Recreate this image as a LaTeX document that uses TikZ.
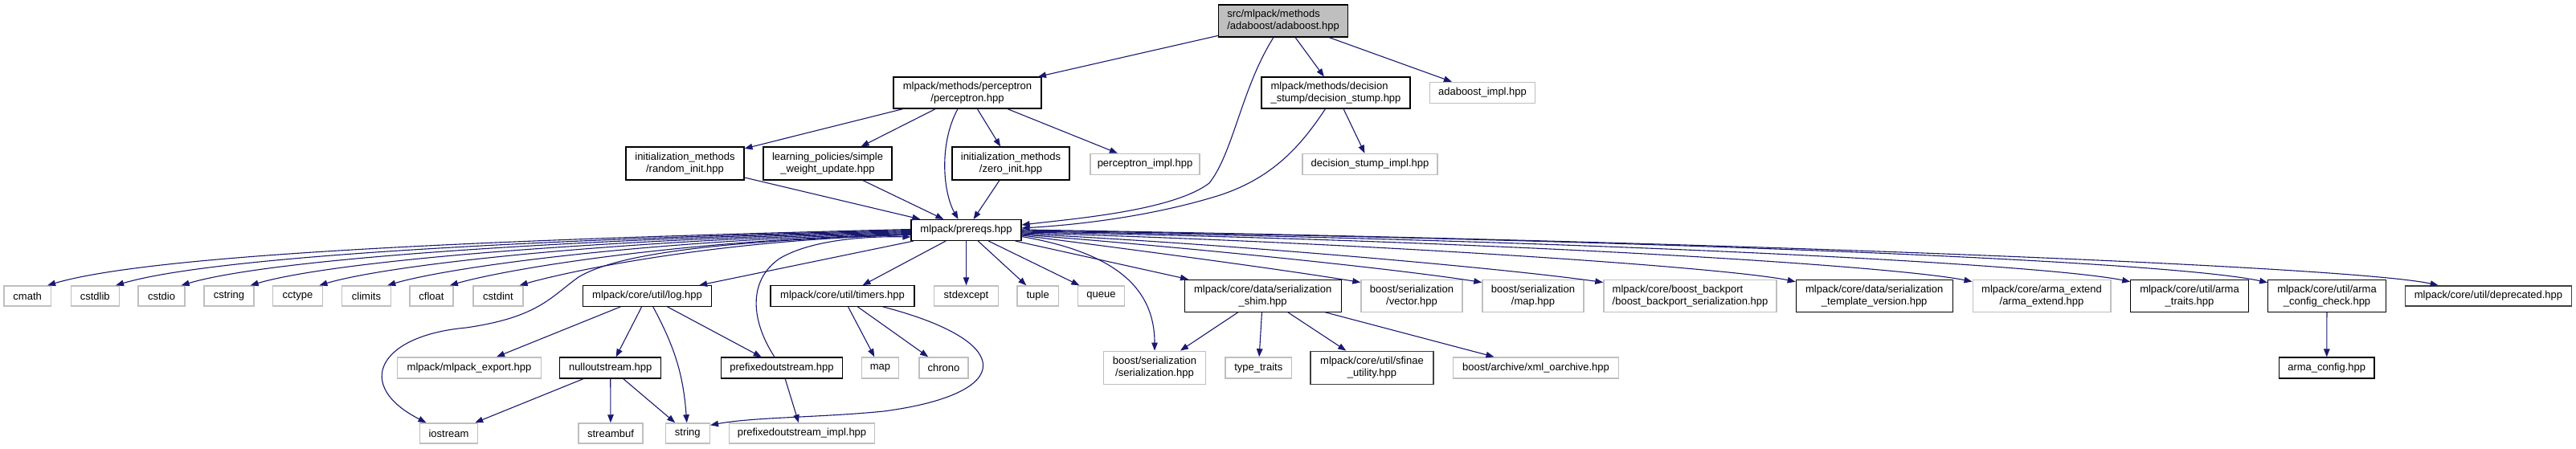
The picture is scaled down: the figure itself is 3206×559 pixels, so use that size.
\documentclass[tikz,border=0pt]{standalone}
\usepackage{fontspec}
\setmainfont{Liberation Sans}
\usetikzlibrary{arrows.meta,calc}
\definecolor{edgeblue}{HTML}{191970}
\definecolor{lgray}{HTML}{BFBFBF}
\definecolor{dgray}{HTML}{404040}
\begin{document}
\begin{tikzpicture}[x=1pt,y=1pt,
  box/.style={rectangle, inner sep=0pt, font=\fontsize{13}{15}\selectfont, align=center, fill=white},
  doc/.style={box, draw=black, line width=1.1pt},
  darkdoc/.style={box, draw=dgray, line width=1.5pt},
  ext/.style={box, draw=lgray, line width=1.5pt},
  sz/.style 2 args={minimum width=#1pt, minimum height=#2pt},
  edge/.style={draw=edgeblue, line width=1.1pt, -{Triangle[length=10pt,width=7.5pt]}},
]
\useasboundingbox (0,0) rectangle (3206,-559);
\fill[white] (0,0) rectangle (3206,-559);

% ---- top ranks ----
\node[doc, fill=lgray, align=left, sz={161}{40}] (root) at (1597,-26) {src/mlpack/methods\\/adaboost/adaboost.hpp};
\node[doc, sz={184}{39}] (perc) at (1204,-115.5) {mlpack/methods/perceptron\\/perceptron.hpp};
\node[doc, align=left, sz={185}{39}] (stump) at (1662.5,-115.5) {mlpack/methods/decision\\\_stump/decision\_stump.hpp};
\node[ext, sz={131}{26}] (abimpl) at (1845,-115.5) {adaboost\_impl.hpp};

\node[doc, sz={147}{41}] (rinit) at (852.5,-203.5) {initialization\_methods\\/random\_init.hpp};
\node[doc, sz={160}{41}] (wupd) at (1030,-203.5) {learning\_policies/simple\\\_weight\_update.hpp};
\node[doc, sz={146}{41}] (zinit) at (1258,-203.5) {initialization\_methods\\/zero\_init.hpp};
\node[ext, sz={136}{26}] (pimpl) at (1425,-204.5) {perceptron\_impl.hpp};
\node[ext, sz={168}{26}] (simpl) at (1705,-204.5) {decision\_stump\_impl.hpp};

\node[doc, sz={137}{26}] (prereqs) at (1202.5,-286.5) {mlpack/prereqs.hpp};

% ---- rank 4 ----
\node[ext, sz={58.3}{25}] (cmath) at (34.2,-368.5) {cmath};
\node[ext, sz={60}{25}] (cstdlib) at (118.3,-368.5) {cstdlib};
\node[ext, sz={57.7}{25}] (cstdio) at (201,-368.5) {cstdio};
\node[ext, sz={61.7}{25}] (cstring) at (285,-368.5) {cstring};
\node[ext, sz={62.3}{25}] (cctype) at (370.5,-368.5) {cctype};
\node[ext, sz={61}{25}] (climits) at (456,-368.5) {climits};
\node[ext, sz={54.3}{25}] (cfloat) at (537,-368.5) {cfloat};
\node[ext, sz={61.7}{25}] (cstdint) at (620,-368.5) {cstdint};
\node[doc, sz={160.3}{25.6}] (log) at (805.5,-368.5) {mlpack/core/util/log.hpp};
\node[doc, sz={179}{25.6}] (timers) at (1048.5,-368.5) {mlpack/core/util/timers.hpp};
\node[ext, sz={79.7}{25}] (stdexcept) at (1202.5,-368.5) {stdexcept};
\node[ext, sz={51.3}{25}] (tuple) at (1291.7,-368.5) {tuple};
\node[ext, sz={57.7}{25}] (queue) at (1370.5,-368.5) {queue};
\node[doc, sz={194.7}{40}] (shim) at (1571.7,-368.3) {mlpack/core/data/serialization\\\_shim.hpp};
\node[ext, sz={126}{40}] (bvec) at (1757,-368.3) {boost/serialization\\/vector.hpp};
\node[ext, sz={126}{40}] (bmap) at (1908,-368.3) {boost/serialization\\/map.hpp};
\node[ext, align=left, sz={215}{40}] (backport) at (2103.5,-368.3) {mlpack/core/boost\_backport\\/boost\_backport\_serialization.hpp};
\node[doc, sz={195}{40}] (tver) at (2332.7,-368.3) {mlpack/core/data/serialization\\\_template\_version.hpp};
\node[ext, sz={171.5}{40}] (aext) at (2541,-368.3) {mlpack/core/arma\_extend\\/arma\_extend.hpp};
\node[doc, sz={146.5}{40}] (atraits) at (2725,-368.3) {mlpack/core/util/arma\\\_traits.hpp};
\node[doc, sz={146.7}{40}] (acheck) at (2896,-368.3) {mlpack/core/util/arma\\\_config\_check.hpp};
\node[darkdoc, sz={207.3}{25}] (depr) at (3097,-368.5) {mlpack/core/util/deprecated.hpp};

% ---- rank 5 ----
\node[ext, sz={179}{26}] (export) at (584,-458) {mlpack/mlpack\_export.hpp};
\node[doc, sz={126}{26}] (nullout) at (759.7,-458) {nulloutstream.hpp};
\node[doc, sz={151}{26}] (prefout) at (973,-458) {prefixedoutstream.hpp};
\node[ext, sz={46.3}{26}] (map) at (1095.5,-458) {map};
\node[ext, sz={61}{26}] (chrono) at (1174.5,-458) {chrono};
\node[ext, sz={127.3}{41}] (ser) at (1437,-457.8) {boost/serialization\\/serialization.hpp};
\node[ext, sz={82.7}{26}] (ttraits) at (1566.3,-458) {type\_traits};
\node[darkdoc, sz={153}{41}] (sfinae) at (1707.5,-457.8) {mlpack/core/util/sfinae\\\_utility.hpp};
\node[ext, sz={206.3}{26}] (xml) at (1911.5,-458) {boost/archive/xml\_oarchive.hpp};
\node[doc, sz={118.6}{26}] (aconfig) at (2895.7,-458) {arma\_config.hpp};

% ---- rank 6 ----
\node[ext, sz={71.7}{25}] (iostream) at (558.5,-539.5) {iostream};
\node[ext, sz={80}{25}] (streambuf) at (760,-539.5) {streambuf};
\node[ext, sz={55}{25}] (string) at (855.8,-539.5) {string};
\node[ext, sz={181.4}{25}] (pimpl2) at (998,-539.5) {prefixedoutstream\_impl.hpp};

% ---- straight edges ----
\draw[edge] (root) -- (perc);
\draw[edge] (root) -- (stump);
\draw[edge] (root) -- (abimpl);
\draw[edge] (perc) -- (rinit);
\draw[edge] (perc) -- (wupd);
\draw[edge] (perc) -- (zinit);
\draw[edge] (perc) -- (pimpl);
\draw[edge] (stump) -- (simpl);
\draw[edge] (rinit) -- (prereqs);
\draw[edge] (wupd) -- (prereqs);
\draw[edge] (zinit) -- (prereqs);
\draw[edge] (prereqs) -- (log);
\draw[edge] (prereqs) -- (timers);
\draw[edge] (prereqs) -- (stdexcept);
\draw[edge] (prereqs) -- (tuple);
\draw[edge] (prereqs) -- (queue);
\draw[edge] (prereqs) -- (shim);
\draw[edge] (log) -- (export);
\draw[edge] (log) -- (nullout);
\draw[edge] (log) -- (prefout);
\draw[edge] (log) to[bend left=12] (string);
\draw[edge] (nullout) -- (iostream);
\draw[edge] (nullout) -- (streambuf);
\draw[edge] (nullout) -- (string);
\draw[edge] (prefout) -- (pimpl2);
\draw[edge] (timers) -- (map);
\draw[edge] (timers) -- (chrono);
\draw[edge] (shim) -- (ser);
\draw[edge] (shim) -- (ttraits);
\draw[edge] (shim) -- (sfinae);
\draw[edge] (shim) -- (xml);
\draw[edge] (acheck) -- (aconfig);

% ---- curved edges into prereqs ----
\draw[edge] ($(root.south)+(-12,0)$) .. controls (1545,-110) and (1535,-190) .. (1505,-228)
  .. controls (1460,-262) and (1340,-272) .. ($(prereqs.east)+(0,6.5)$);
\draw[edge] ($(stump.south)+(-13,0)$) .. controls (1620,-180) and (1585,-222) .. (1515,-244)
  .. controls (1430,-270) and (1340,-280) .. ($(prereqs.east)+(0,2.5)$);
\draw[edge] ($(perc.south)+(-12,0)$) .. controls (1168,-180) and (1174,-240) .. ($(prereqs.north)+(-10,0)$);
\draw[edge] ($(prefout.north)+(-9,0)$) .. controls (935,-400) and (930,-350) .. (970,-322)
  .. controls (1010,-298) and (1080,-294) .. ($(prereqs.west)+(0,-8.5)$);

% ---- prereqs to iostream / serialization ----
\draw[edge] ($(prereqs.west)+(0,-5.5)$) .. controls (900,-300) and (770,-315) .. (720,-345)
  .. controls (685,-370) and (670,-395) .. (580,-408)
  .. controls (470,-418) and (440,-480) .. ($(iostream.north)+(-28,0)$);
\draw[edge] ($(prereqs.east)+(0,-8)$) .. controls (1390,-315) and (1437,-360) .. (ser.north);

% ---- timers to string ----
\draw[edge] ($(timers.south)+(50,0)$) .. controls (1265,-425) and (1265,-490) .. (1100,-512)
  .. controls (1020,-520) and (940,-519) .. ($(string.north east)+(0,-3)$);

% ---- left fan ----
\draw[edge] ($(prereqs.west)+(0,1)$) .. controls +(-538,-13) and +(129,38) .. ($(cmath.north east)+(-5,0)$);
\draw[edge] ($(prereqs.west)+(0,0)$) .. controls +(-495,-12) and +(119,35) .. ($(cstdlib.north east)+(-5,0)$);
\draw[edge] ($(prereqs.west)+(0,-1)$) .. controls +(-455,-11) and +(109,32) .. ($(cstdio.north east)+(-5,0)$);
\draw[edge] ($(prereqs.west)+(0,-2)$) .. controls +(-412,-10) and +(99,29) .. ($(cstring.north east)+(-5,0)$);
\draw[edge] ($(prereqs.west)+(0,-3)$) .. controls +(-369,-9) and +(88,26) .. ($(cctype.north east)+(-5,0)$);
\draw[edge] ($(prereqs.west)+(0,-4)$) .. controls +(-326,-8) and +(78,23) .. ($(climits.north east)+(-5,0)$);
\draw[edge] ($(prereqs.west)+(0,-5)$) .. controls +(-287,-7) and +(69,20) .. ($(cfloat.north east)+(-5,0)$);
\draw[edge] ($(prereqs.west)+(0,-6)$) .. controls +(-244,-6) and +(59,17) .. ($(cstdint.north east)+(-5,0)$);

% ---- right fan ----
\draw[edge] ($(prereqs.east)+(0,0.5)$) .. controls (2150,-300) and (2930,-332) .. ($(depr.north west)+(42,0)$);
\draw[edge] ($(prereqs.east)+(0,-0.5)$) .. controls (2050,-298) and (2700,-325) .. ($(acheck.north west)+(0,-4)$);
\draw[edge] ($(prereqs.east)+(0,-1.5)$) .. controls (1950,-298) and (2540,-328) .. ($(atraits.north west)+(0,-3)$);
\draw[edge] ($(prereqs.east)+(0,-2.5)$) .. controls (1850,-299) and (2350,-330) .. ($(aext.north west)+(0,-3)$);
\draw[edge] ($(prereqs.east)+(0,-3.5)$) .. controls (1700,-302) and (2150,-333) .. ($(tver.north west)+(0,-3)$);
\draw[edge] ($(prereqs.east)+(0,-4.5)$) .. controls (1550,-305) and (1880,-335) .. ($(backport.north west)+(0,-4)$);
\draw[edge] ($(prereqs.east)+(0,-5.5)$) .. controls (1480,-308) and (1740,-335) .. ($(bmap.north west)+(0,-4)$);
\draw[edge] ($(prereqs.east)+(0,-6.5)$) .. controls (1420,-312) and (1600,-336) .. ($(bvec.north west)+(0,-4)$);
\end{tikzpicture}
\end{document}
